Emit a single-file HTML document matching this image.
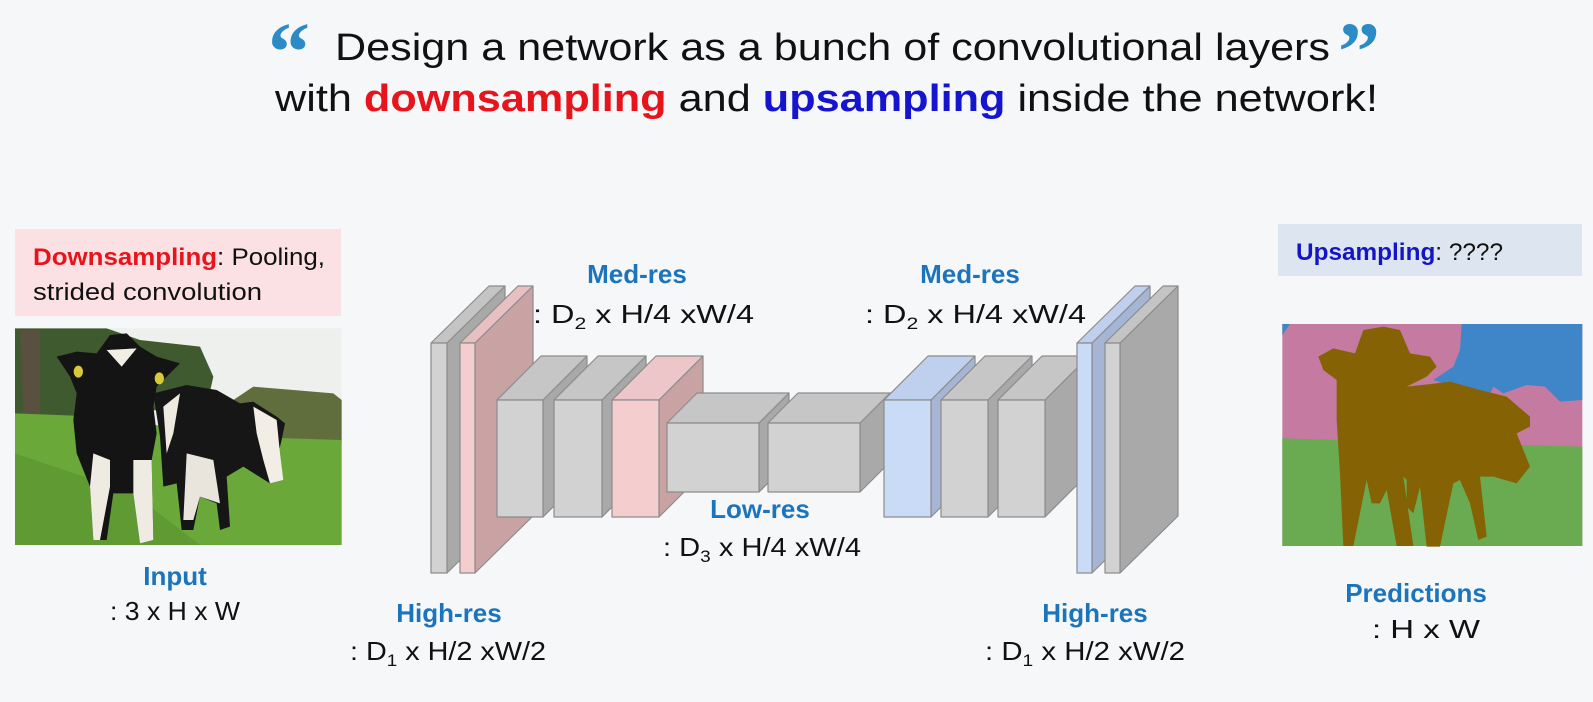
<!DOCTYPE html>
<html><head><meta charset="utf-8"><style>
html,body{margin:0;padding:0;background:#f6f7f9;}
svg{display:block;font-family:"Liberation Sans",sans-serif;}
.lb{fill:#1c75bc;font-weight:bold;font-size:26px;}
.fm{fill:#111;font-size:26px;}
</style></head><body>
<svg width="1593" height="702" viewBox="0 0 1593 702" xmlns="http://www.w3.org/2000/svg">
<rect width="1593" height="702" fill="#f6f7f9"/>
<text x="268" y="80" font-family="Liberation Serif" font-weight="bold" font-size="84" fill="#2b8bc6">“</text>
<text x="1338" y="80" font-family="Liberation Serif" font-weight="bold" font-size="84" fill="#2b8bc6">”</text>
<text x="335" y="60" font-size="38" fill="#111" textLength="995" lengthAdjust="spacingAndGlyphs">Design a network as a bunch of convolutional layers</text>
<text x="275" y="111" font-size="38" fill="#111" textLength="1103" lengthAdjust="spacingAndGlyphs">with <tspan fill="#e8141b" font-weight="bold">downsampling</tspan> and <tspan fill="#1515d0" font-weight="bold">upsampling</tspan> inside the network!</text>

<rect x="15" y="229" width="326" height="87" fill="#fbe1e3"/>
<text x="33" y="265" font-size="24" fill="#111" textLength="292" lengthAdjust="spacingAndGlyphs"><tspan fill="#e8141b" font-weight="bold">Downsampling</tspan>: Pooling,</text>
<text x="33" y="300" font-size="24" fill="#111" textLength="229" lengthAdjust="spacingAndGlyphs">strided convolution</text>

<g transform="translate(0,220) scale(0.33333)">
<rect x="45" y="325" width="980" height="650" fill="#eef0ee"/>
<polygon points="45,325 320,325 420,360 600,380 640,470 620,560 45,600" fill="#3f5a2e"/>
<polygon points="60,330 120,330 120,590 70,590" fill="#5a5040"/>
<polygon points="700,540 760,500 880,510 1000,520 1025,540 1025,670 700,660" fill="#5f6e3c"/>
<polygon points="45,580 300,590 700,650 1025,660 1025,975 45,975" fill="#6aa83a"/>
<polygon points="45,700 400,820 600,975 45,975" fill="#5f9a33"/>
<polygon points="170,410 230,395 290,400 330,345 380,340 420,380 470,410 540,430 500,470 470,500 460,560 470,640 455,720 460,960 420,970 400,820 340,820 320,960 280,960 270,800 230,700 220,600 230,520 210,470" fill="#141414"/>
<polygon points="460,520 560,495 650,510 720,550 760,545 830,590 855,610 845,660 835,700 850,780 810,790 730,740 680,770 690,920 660,930 650,850 600,830 580,930 545,930 530,790 490,800 480,650" fill="#161616"/>
<polygon points="320,390 410,385 365,440" fill="#f2eee6"/>
<polygon points="760,560 830,600 840,700 850,780 810,790 790,720 770,640" fill="#f2eee6"/>
<polygon points="490,560 540,520 520,640 500,700" fill="#eeeae2"/>
<polygon points="280,700 330,720 330,800 300,960 280,960 270,800" fill="#efebe3"/>
<polygon points="400,720 455,720 460,960 420,970 400,820" fill="#efebe3"/>
<polygon points="560,700 640,720 660,850 600,830 580,900 550,900" fill="#e9e5dd"/>
<ellipse cx="235" cy="455" rx="14" ry="18" fill="#d8c83a"/>
<ellipse cx="478" cy="475" rx="14" ry="18" fill="#d8c83a"/>
</g>
<text x="175" y="585" text-anchor="middle" class="lb">Input</text>
<text x="110" y="620" class="fm" textLength="130" lengthAdjust="spacingAndGlyphs">: 3 x H x W</text>

<g stroke="#8c8c8c" stroke-width="1.2" stroke-linejoin="round">
<polygon points="447,343 505,286 505,516 447,573" fill="#a9a9a9"/>
<polygon points="431,343 489,286 505,286 447,343" fill="#c4c4c4"/>
<rect x="431" y="343" width="16" height="230" fill="#d2d2d2"/>
<polygon points="475,343 533,286 533,516 475,573" fill="#c9a2a4"/>
<polygon points="460,343 518,286 533,286 475,343" fill="#e8c0c2"/>
<rect x="460" y="343" width="15" height="230" fill="#f4cdcf"/>
<polygon points="543,400 587,356 587,473 543,517" fill="#a9a9a9"/>
<polygon points="497,400 541,356 587,356 543,400" fill="#c6c6c6"/>
<rect x="497" y="400" width="46" height="117" fill="#d2d2d2"/>
<polygon points="602,400 646,356 646,473 602,517" fill="#a9a9a9"/>
<polygon points="554,400 598,356 646,356 602,400" fill="#c6c6c6"/>
<rect x="554" y="400" width="48" height="117" fill="#d2d2d2"/>
<polygon points="659,400 703,356 703,473 659,517" fill="#c9a2a4"/>
<polygon points="612,400 656,356 703,356 659,400" fill="#ecc6c8"/>
<rect x="612" y="400" width="47" height="117" fill="#f4cdcf"/>
<polygon points="759,423 789,393 789,462 759,492" fill="#a9a9a9"/>
<polygon points="667,423 697,393 789,393 759,423" fill="#c6c6c6"/>
<rect x="667" y="423" width="92" height="69" fill="#d2d2d2"/>
<polygon points="860,423 890,393 890,462 860,492" fill="#a9a9a9"/>
<polygon points="768,423 798,393 890,393 860,423" fill="#c6c6c6"/>
<rect x="768" y="423" width="92" height="69" fill="#d2d2d2"/>
<polygon points="931,400 975,356 975,473 931,517" fill="#a5b5d3"/>
<polygon points="884,400 928,356 975,356 931,400" fill="#bfd0ee"/>
<rect x="884" y="400" width="47" height="117" fill="#c9dbf7"/>
<polygon points="988,400 1032,356 1032,473 988,517" fill="#a9a9a9"/>
<polygon points="941,400 985,356 1032,356 988,400" fill="#c6c6c6"/>
<rect x="941" y="400" width="47" height="117" fill="#d2d2d2"/>
<polygon points="1045,400 1089,356 1089,473 1045,517" fill="#a9a9a9"/>
<polygon points="998,400 1042,356 1089,356 1045,400" fill="#c6c6c6"/>
<rect x="998" y="400" width="47" height="117" fill="#d2d2d2"/>
<polygon points="1092,343 1150,286 1150,516 1092,573" fill="#a5b5d3"/>
<polygon points="1077,343 1135,286 1150,286 1092,343" fill="#bfd0ee"/>
<rect x="1077" y="343" width="15" height="230" fill="#c9dbf7"/>
<polygon points="1120,343 1178,286 1178,516 1120,573" fill="#a9a9a9"/>
<polygon points="1105,343 1163,286 1178,286 1120,343" fill="#c4c4c4"/>
<rect x="1105" y="343" width="15" height="230" fill="#d2d2d2"/>
</g>

<text x="637" y="283" text-anchor="middle" class="lb">Med-res</text>
<text x="533" y="323" class="fm" textLength="221" lengthAdjust="spacingAndGlyphs">: D<tspan font-size="17" dy="6">2</tspan><tspan dy="-6"> x H/4 xW/4</tspan></text>
<text x="970" y="283" text-anchor="middle" class="lb">Med-res</text>
<text x="865" y="323" class="fm" textLength="221" lengthAdjust="spacingAndGlyphs">: D<tspan font-size="17" dy="6">2</tspan><tspan dy="-6"> x H/4 xW/4</tspan></text>
<text x="760" y="518" text-anchor="middle" class="lb">Low-res</text>
<text x="663" y="556" class="fm" textLength="198" lengthAdjust="spacingAndGlyphs">: D<tspan font-size="17" dy="6">3</tspan><tspan dy="-6"> x H/4 xW/4</tspan></text>
<text x="449" y="622" text-anchor="middle" class="lb">High-res</text>
<text x="350" y="660" class="fm" textLength="196" lengthAdjust="spacingAndGlyphs">: D<tspan font-size="17" dy="6">1</tspan><tspan dy="-6"> x H/2 xW/2</tspan></text>
<text x="1095" y="622" text-anchor="middle" class="lb">High-res</text>
<text x="985" y="660" class="fm" textLength="200" lengthAdjust="spacingAndGlyphs">: D<tspan font-size="17" dy="6">1</tspan><tspan dy="-6"> x H/2 xW/2</tspan></text>

<rect x="1278" y="224" width="304" height="52" fill="#dde6f0"/>
<text x="1296" y="260" font-size="24" fill="#111" textLength="207" lengthAdjust="spacingAndGlyphs"><tspan fill="#1515c8" font-weight="bold">Upsampling</tspan>: ????</text>

<g transform="translate(1240,220) scale(0.33333)">
<rect x="127" y="312" width="900" height="666" fill="#c57ba1"/>
<polygon points="127,655 1027,680 1027,978 127,978" fill="#6aaa50"/>
<polygon points="665,312 1027,312 1027,540 960,545 915,500 860,495 790,520 760,500 740,545 700,520 640,500 580,480 640,440 660,390" fill="#3f86c8"/>
<polygon points="127,312 150,312 127,345" fill="#3f86c8"/>
<polygon points="235,410 280,385 345,400 370,330 430,320 480,330 510,400 570,410 590,440 560,470 500,500 590,490 630,485 720,510 800,530 870,590 870,620 830,640 870,740 830,790 760,770 720,770 740,950 715,960 690,850 660,780 640,790 600,980 560,980 540,800 520,880 500,860 500,780 490,770 520,978 470,978 440,810 420,850 395,850 380,780 340,978 310,978 300,760 290,600 290,480 250,450" fill="#856204"/>
</g>
<text x="1416" y="602" text-anchor="middle" class="lb">Predictions</text>
<text x="1372" y="638" class="fm" textLength="108" lengthAdjust="spacingAndGlyphs">: H x W</text>
</svg>
</body></html>
